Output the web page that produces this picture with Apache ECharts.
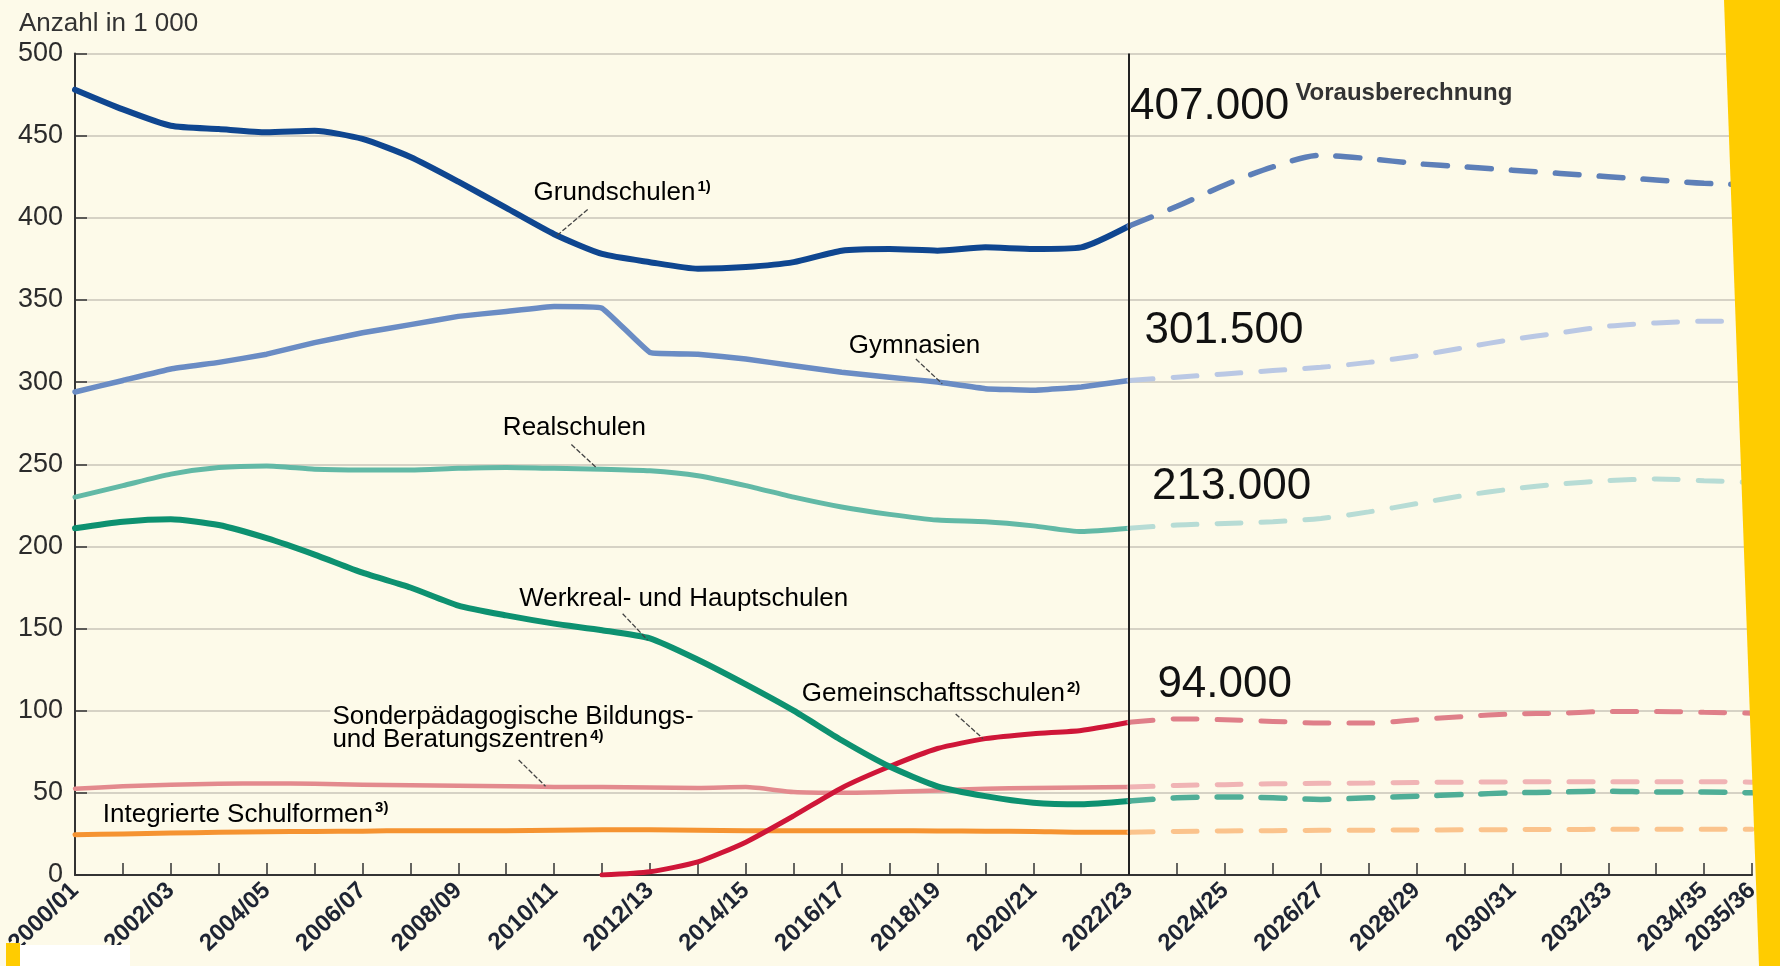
<!DOCTYPE html>
<html>
<head>
<meta charset="utf-8">
<title>Schülerzahlen Baden-Württemberg</title>
<script src="https://cdn.jsdelivr.net/npm/echarts@6/dist/echarts.min.js"></script>
<style>
  html, body { margin: 0; padding: 0; background: #fdfae9; }
  #chart { width: 1780px; height: 966px; }
</style>
</head>
<body>
<div id="chart"></div>
<script>
// Schuljahre (Tick-Beschriftungen der x-Achse)
const years = [
  '2000/01', '2001/02', '2002/03', '2003/04', '2004/05', '2005/06', '2006/07', '2007/08',
  '2008/09', '2009/10', '2010/11', '2011/12', '2012/13', '2013/14', '2014/15', '2015/16',
  '2016/17', '2017/18', '2018/19', '2019/20', '2020/21', '2021/22', '2022/23', '2023/24',
  '2024/25', '2025/26', '2026/27', '2027/28', '2028/29', '2029/30', '2030/31', '2031/32',
  '2032/33', '2033/34', '2034/35', '2035/36'
]
const yTicks = [0, 50, 100, 150, 200, 250, 300, 350, 400, 450, 500]

// Ist-Werte 2000/01 - 2022/23 (Anzahl in 1 000)
const grundschulen = [478, 466, 456, 454, 452, 453, 448, 437, 422, 406, 390, 378, 373, 369, 370, 373, 380, 381, 380, 382, 381, 382, 395]
const gymnasien = [294, 301, 308, 312, 317, 324, 330, 335, 340, 343, 346, 345, 318, 317, 314, 310, 306, 303, 300, 296, 295, 297, 301]
const realschulen = [230, 237, 244, 248, 249, 247, 246.5, 246.5, 247.5, 248, 247.5, 247, 246, 243, 237, 230, 224, 219.5, 216, 215, 212.5, 209, 211]
const werkreal = [211, 215, 216.5, 213, 205, 195, 184, 175, 164, 158, 153, 149, 144, 131, 116, 100, 82, 66, 54, 48, 44, 43, 45]
const gemeinschaft = [null, null, null, null, null, null, null, null, null, null, null, 0, 2, 8, 20, 36, 53, 66, 77, 83, 86, 88, 93]
const sonder = [52.5, 54, 55, 55.5, 55.7, 55.5, 55, 54.7, 54.3, 54, 53.6, 53.5, 53.3, 53, 53.5, 50.5, 50, 50.5, 51.5, 52.5, 53, 53.3, 53.5]
const integrierte = [24.5, 25, 25.5, 26, 26.3, 26.5, 26.7, 27, 27, 27, 27.3, 27.5, 27.5, 27.3, 27, 27, 27, 27, 26.8, 26.7, 26.5, 26, 26]

// Vorausberechnung 2022/23 - 2035/36
const grundschulenVB = [395, 407, 420, 431, 438, 436, 433, 431, 429, 427, 425, 423, 421, 420]
const gymnasienVB = [301, 303, 305, 307, 309, 312, 316, 321, 326, 330, 334, 336, 337, 337]
const realschulenVB = [211, 213, 214, 215, 217, 221, 226, 231, 235, 238, 240, 241, 240, 239]
const werkrealVB = [45, 47, 47.5, 47, 46, 47, 48, 49, 50, 50.5, 51, 50.5, 50.5, 50]
const gemeinschaftVB = [93, 95, 94.5, 93.5, 92.5, 92.5, 94.5, 96.5, 98, 98.5, 99.5, 99.5, 99, 98.5]
const sonderVB = [53.5, 54.5, 55, 55.5, 55.8, 56, 56.3, 56.5, 56.7, 56.8, 56.8, 56.8, 56.8, 56.5]
const integrierteVB = [26, 26.5, 26.8, 27, 27.2, 27.3, 27.4, 27.5, 27.6, 27.7, 27.8, 27.8, 27.8, 27.8]

const startVB = years.indexOf('2022/23')
const font = "'Liberation Sans', Arial, sans-serif"
const textColor = '#333333'

const hist = (arr) => arr.map((v, i) => [i, v])
const proj = (arr) => arr.map((v, i) => [startVB + i, v])

function solid(name, data, color, width, smooth) {
  return {
    name,
    type: 'line',
    data: hist(data),
    showSymbol: false,
    smooth: smooth === undefined ? 0.2 : smooth,
    lineStyle: { color, width, cap: 'round', join: 'round' },
    z: 3
  }
}
function dashed(name, data, color, width) {
  return {
    name: name + ' (Vorausberechnung)',
    type: 'line',
    data: proj(data),
    showSymbol: false,
    smooth: 0.3,
    lineStyle: { color, width, type: [24, 20], cap: 'round' },
    z: 3
  }
}

const series = [
  solid('Integrierte Schulformen', integrierte, '#f59331', 5),
  solid('Sonderpädagogische Bildungs- und Beratungszentren', sonder, '#e38a8e', 4.5),
  solid('Gemeinschaftsschulen', gemeinschaft, '#cf1638', 5),
  solid('Werkreal- und Hauptschulen', werkreal, '#0d9170', 6),
  solid('Realschulen', realschulen, '#62b9a6', 5),
  solid('Gymnasien', gymnasien, '#6a8cc4', 5.5, 0.08),
  solid('Grundschulen', grundschulen, '#0f4690', 6),
  dashed('Integrierte Schulformen', integrierteVB, '#fbc38c', 5),
  dashed('Sonderpädagogische Bildungs- und Beratungszentren', sonderVB, '#f0b4b5', 5),
  dashed('Gemeinschaftsschulen', gemeinschaftVB, '#df7f89', 5),
  dashed('Werkreal- und Hauptschulen', werkrealVB, '#4fae97', 5.5),
  dashed('Realschulen', realschulenVB, '#b7dcd5', 5),
  dashed('Gymnasien', gymnasienVB, '#bac8e4', 5),
  dashed('Grundschulen', grundschulenVB, '#5d7fb8', 5.5)
]
// senkrechte Linie beim Beginn der Vorausberechnung
series[0].markLine = {
  silent: true,
  symbol: 'none',
  label: { show: false },
  lineStyle: { color: '#222', width: 2, type: 'solid' },
  data: [{ xAxis: startVB }],
  z: 10
}

const chart = echarts.init(document.getElementById('chart'))
chart.setOption({
  animation: false,
  backgroundColor: '#fdfae9',
  title: {
    text: 'Anzahl in 1 000',
    left: 14,
    top: 6,
    textStyle: { fontFamily: font, fontSize: 26, fontWeight: 'normal', color: textColor }
  },
  grid: { left: 75, right: 28, top: 53.5, bottom: 91, containLabel: false, outerBoundsMode: 'none' },
  xAxis: {
    type: 'value',
    min: 0,
    max: years.length - 1,
    interval: 1,
    axisLine: { lineStyle: { color: '#333', width: 2 } },
    axisTick: { inside: true, length: 12, lineStyle: { color: '#333', width: 1.5 } },
    splitLine: { show: false },
    axisLabel: {
      rotate: 44,
      margin: 12,
      fontFamily: font,
      fontSize: 24,
      fontWeight: 'bold',
      color: '#1e2433',
      formatter: (v) => (v % 2 === 0 || v === years.length - 1) ? years[v] : ''
    }
  },
  yAxis: {
    type: 'value',
    min: yTicks[0],
    max: yTicks[yTicks.length - 1],
    interval: yTicks[1] - yTicks[0],
    axisLine: { show: true, lineStyle: { color: '#333', width: 2 } },
    axisTick: { show: true, inside: true, length: 12, lineStyle: { color: '#333', width: 1.5 } },
    splitLine: { lineStyle: { color: '#c9c5b8', width: 1.5 } },
    axisLabel: { margin: 12, fontFamily: font, fontSize: 27, color: '#2b2b2b' }
  },
  series
})

// Beschriftungen an den Kurven (in Datenkoordinaten verankert)
const px = (p) => chart.convertToPixel({ gridIndex: 0 }, p)
const rich = {
  t: { fontFamily: font, fontSize: 26, lineHeight: 28, color: '#3a3a3a' },
  u: { fontFamily: font, fontSize: 26, lineHeight: 23, color: '#3a3a3a' },
  s: { fontFamily: font, fontSize: 15, lineHeight: 15, fontWeight: 'bold', color: '#3a3a3a', verticalAlign: 'top', padding: [0, 0, 0, 2] }
}
const notes = [
  { at: [9.57, 415], text: '{t|Grundschulen}{s|1)}' },
  { at: [16.15, 322], text: '{t|Gymnasien}' },
  { at: [8.93, 272], text: '{t|Realschulen}' },
  { at: [9.27, 168], text: '{t|Werkreal- und Hauptschulen}' },
  { at: [15.17, 110], text: '{t|Gemeinschaftsschulen}{s|2)}' },
  { at: [5.33, 89.3], text: '{u|Sonderpädagogische Bildungs-}\n{u|und Beratungszentren}{s|4)}', bg: true },
  { at: [0.58, 36.8], text: '{t|Integrierte Schulformen}{s|3)}' }
]
const leaders = [
  [[10.7, 405], [10.05, 389]],
  [[17.55, 314], [18.1, 299]],
  [[10.36, 262], [10.88, 248]],
  [[11.43, 159], [11.95, 143]],
  [[18.38, 98], [18.95, 83]],
  [[9.26, 70], [9.82, 54]]
]
const bigNumbers = [
  { at: [22.02, 467.7], text: '407.000' },
  { at: [22.32, 331.3], text: '301.500' },
  { at: [22.48, 236.5], text: '213.000' },
  { at: [22.59, 115.8], text: '94.000' }
]

const graphic = []
notes.forEach((n) => {
  const [x, y] = px(n.at)
  graphic.push({
    type: 'text', x, y, z: 20,
    style: {
      text: n.text, rich, align: 'left', verticalAlign: 'middle',
      backgroundColor: n.bg ? '#fdfae9' : 'transparent', padding: n.bg ? [0, 4, 0, 2] : 0
    }
  })
})
leaders.forEach(([a, b]) => {
  const p1 = px(a), p2 = px(b)
  graphic.push({
    type: 'line', z: 20,
    shape: { x1: p1[0], y1: p1[1], x2: p2[0], y2: p2[1] },
    style: { stroke: '#444', lineWidth: 1.3, lineDash: [5, 2] }
  })
})
bigNumbers.forEach((b) => {
  const [x, y] = px(b.at)
  graphic.push({
    type: 'text', x, y, z: 20,
    style: { text: b.text, fontFamily: font, fontSize: 44, fill: '#111', align: 'left', verticalAlign: 'middle' }
  })
})
const vb = px([25.47, 483.3])
graphic.push({
  type: 'text', x: vb[0], y: vb[1], z: 20,
  style: { text: 'Vorausberechnung', fontFamily: font, fontSize: 24, fontWeight: 'bold', fill: '#333', align: 'left', verticalAlign: 'top' }
})
// gelber Rand rechts und Reste unten links
graphic.push({
  type: 'polygon', z: 30,
  shape: { points: [[1724, 0], [1780, 0], [1780, 966], [1759, 966]] },
  style: { fill: '#ffcc00' }
})
graphic.push({ type: 'rect', z: 30, shape: { x: 6, y: 943, width: 14, height: 23 }, style: { fill: '#ffcc00' } })
graphic.push({ type: 'rect', z: 30, shape: { x: 20, y: 945, width: 110, height: 21 }, style: { fill: '#ffffff' } })

chart.setOption({ graphic })
</script>
</body>
</html>
